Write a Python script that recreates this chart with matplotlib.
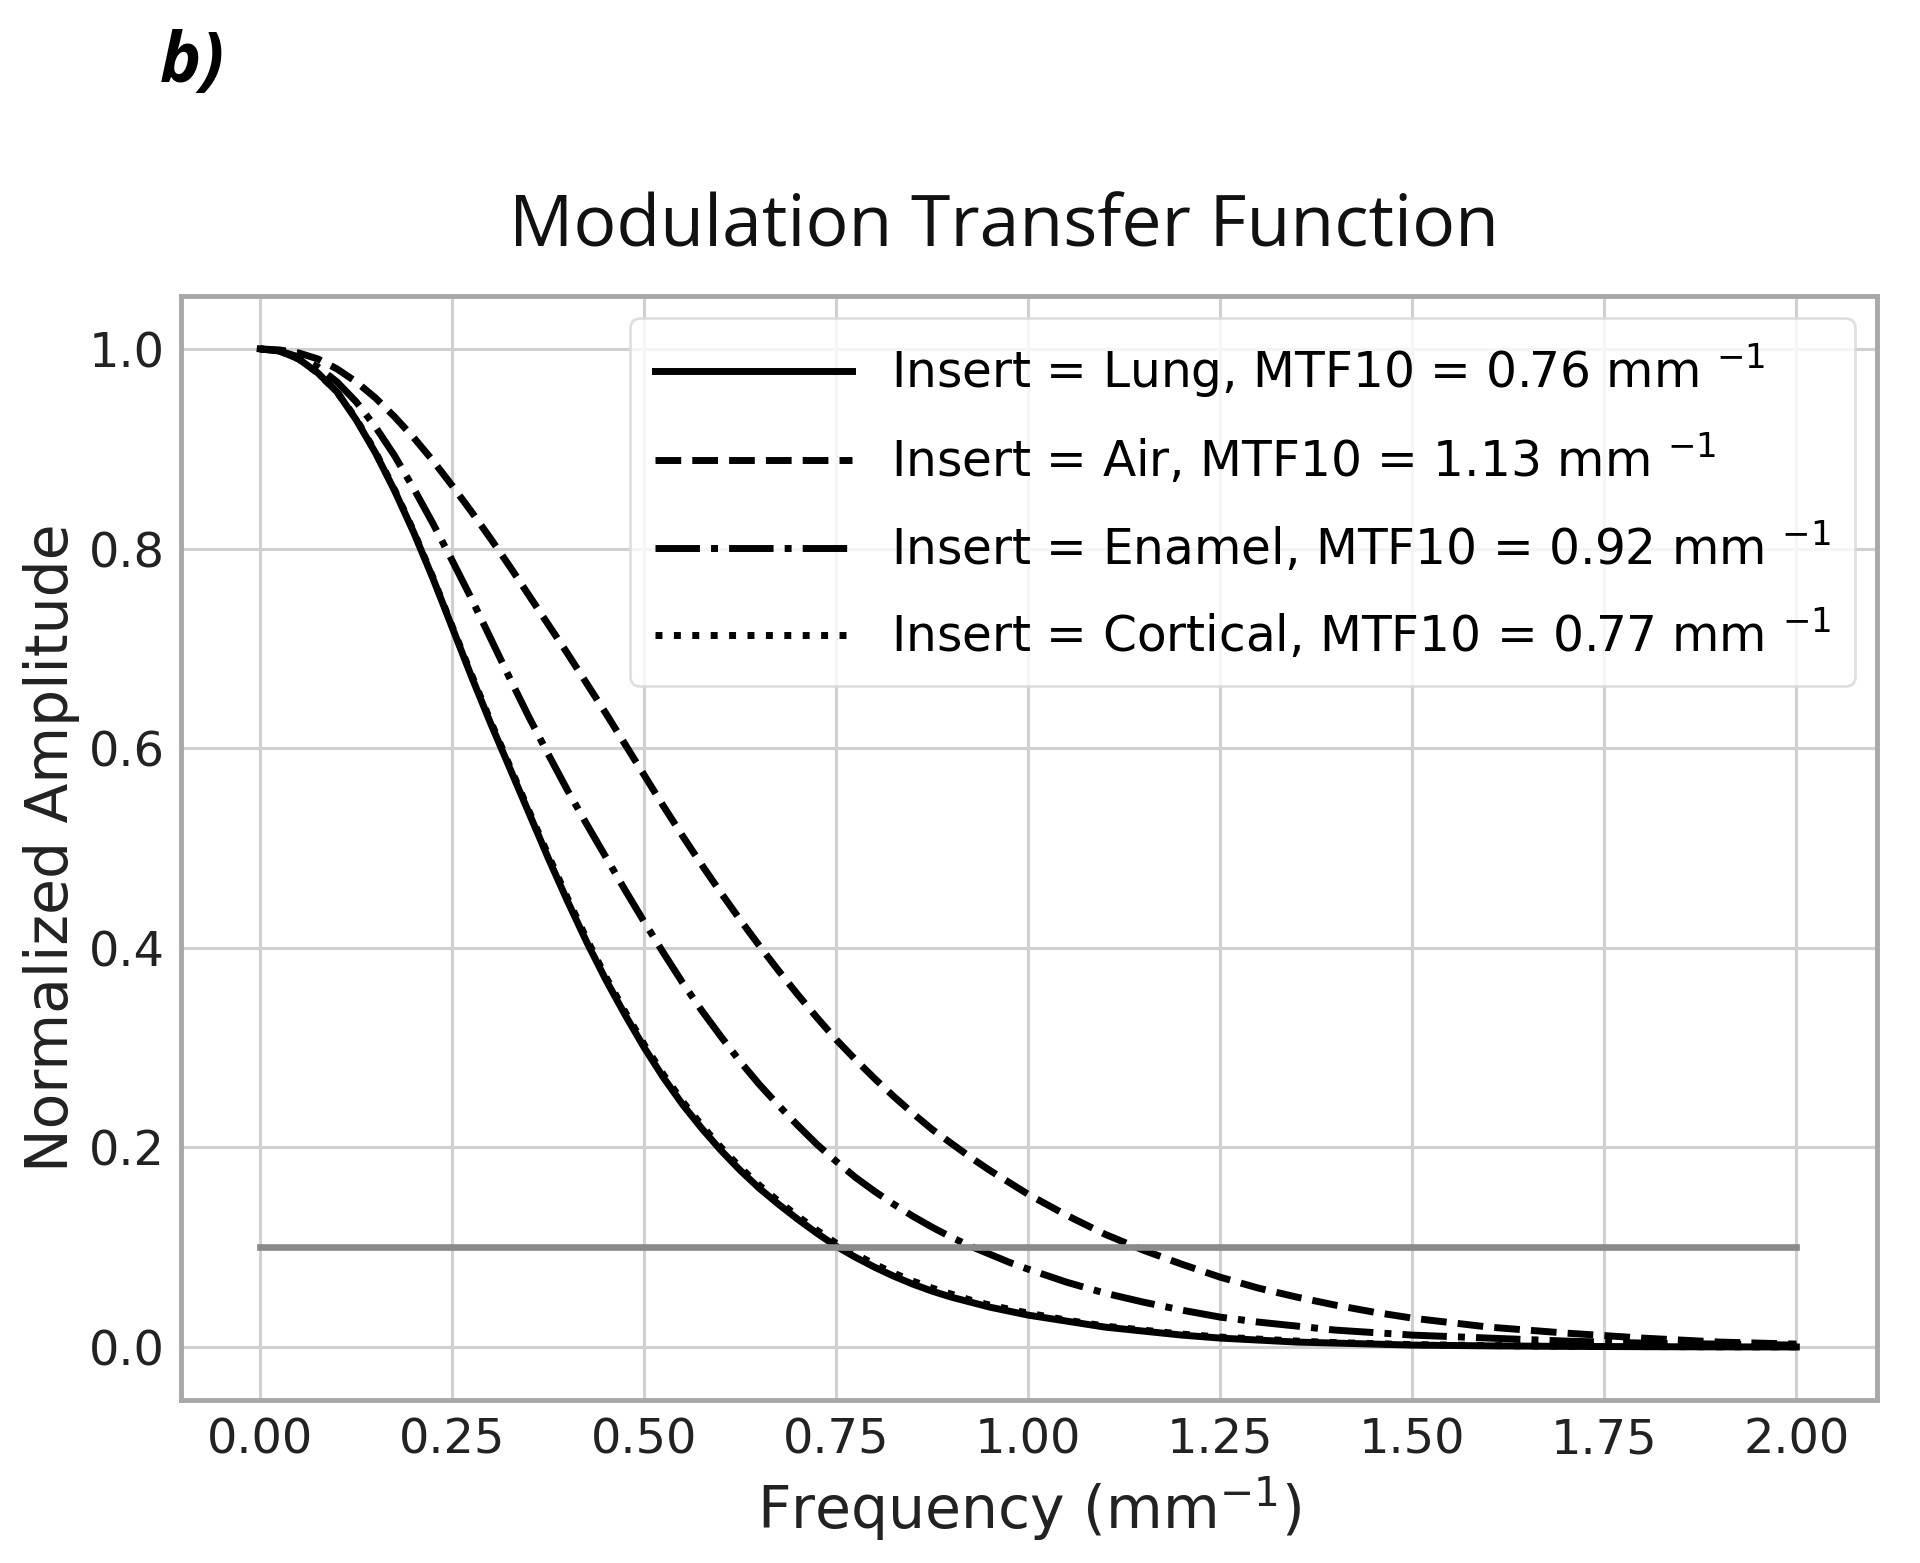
import matplotlib
matplotlib.use("Agg")
import matplotlib.pyplot as plt

# ---- data ----
freq = [0.0, 0.025, 0.05, 0.075, 0.1, 0.125, 0.15, 0.175, 0.2, 0.225, 0.25, 0.275, 0.3,
        0.325, 0.35, 0.375, 0.4, 0.425, 0.45, 0.475, 0.5, 0.525, 0.55, 0.575, 0.6, 0.625,
        0.65, 0.675, 0.7, 0.725, 0.75, 0.775, 0.8, 0.825, 0.85, 0.875, 0.9, 0.925, 0.95,
        0.975, 1.0,
        1.05, 1.1, 1.15, 1.2, 1.25, 1.3, 1.35, 1.4, 1.45, 1.5,
        1.6, 1.7, 1.8, 1.9, 2.0]

lung = [1.0, 0.998, 0.99, 0.976, 0.957, 0.929, 0.896, 0.858, 0.816, 0.77, 0.721, 0.672, 0.625,
        0.58, 0.535, 0.49, 0.447, 0.406, 0.368, 0.333, 0.30, 0.27, 0.243, 0.219, 0.197, 0.177,
        0.159, 0.143, 0.128, 0.114, 0.101, 0.09, 0.08, 0.071, 0.063, 0.056, 0.05, 0.045, 0.04,
        0.036, 0.032,
        0.026, 0.02, 0.016, 0.012, 0.009, 0.007, 0.005, 0.004, 0.003, 0.002,
        0.0012, 0.0007, 0.0004, 0.0002, 0.0001]

air = [1.0, 0.999, 0.996, 0.99, 0.98, 0.967, 0.951, 0.932, 0.911, 0.888, 0.863, 0.837, 0.81,
       0.782, 0.753, 0.724, 0.695, 0.665, 0.635, 0.604, 0.573, 0.542, 0.512, 0.483, 0.455, 0.428,
       0.402, 0.377, 0.353, 0.33, 0.308, 0.288, 0.269, 0.251, 0.234, 0.218, 0.204, 0.19, 0.177,
       0.165, 0.153,
       0.132, 0.113, 0.097, 0.083, 0.07, 0.059, 0.05, 0.042, 0.035, 0.029,
       0.02, 0.014, 0.009, 0.005, 0.003]

enamel = [1.0, 0.998, 0.992, 0.982, 0.967, 0.947, 0.922, 0.893, 0.86, 0.825, 0.788, 0.75, 0.71,
          0.67, 0.631, 0.594, 0.558, 0.524, 0.491, 0.458, 0.426, 0.395, 0.365, 0.337, 0.311, 0.286,
          0.263, 0.242, 0.222, 0.203, 0.186, 0.17, 0.156, 0.143, 0.131, 0.12, 0.11, 0.101, 0.093,
          0.085, 0.078,
          0.065, 0.054, 0.045, 0.037, 0.03, 0.025, 0.021, 0.017, 0.0145, 0.012,
          0.009, 0.006, 0.004, 0.003, 0.002]

cortical = [1.0, 0.998, 0.99, 0.976, 0.957, 0.93, 0.897, 0.859, 0.817, 0.771, 0.722, 0.674, 0.627,
            0.582, 0.537, 0.493, 0.45, 0.409, 0.371, 0.336, 0.303, 0.273, 0.246, 0.222, 0.2, 0.18,
            0.162, 0.146, 0.131, 0.117, 0.104, 0.093, 0.083, 0.074, 0.066, 0.059, 0.053, 0.047, 0.042,
            0.038, 0.034,
            0.027, 0.021, 0.017, 0.013, 0.01, 0.008, 0.006, 0.0045, 0.0035, 0.0025,
            0.0015, 0.0009, 0.0005, 0.0003, 0.0002]

labels = [r'Insert = Lung, MTF10 = 0.76 mm $^{-1}$',
          r'Insert = Air, MTF10 = 1.13 mm $^{-1}$',
          r'Insert = Enamel, MTF10 = 0.92 mm $^{-1}$',
          r'Insert = Cortical, MTF10 = 0.77 mm $^{-1}$']
styles = ['-', '--', '-.', ':']
threshold = 0.1
xticks = [0.0, 0.25, 0.5, 0.75, 1.0, 1.25, 1.5, 1.75, 2.0]
yticks = [0.0, 0.2, 0.4, 0.6, 0.8, 1.0]

plt.rcParams['font.family'] = ['DejaVu Sans']
plt.rcParams['mathtext.fontset'] = 'dejavusans'

fig = plt.figure(figsize=(19.2, 15.63), dpi=100)
ax = fig.add_axes([0.0943, 0.1043, 0.8833, 0.7063])

ax.set_facecolor('white')
ax.grid(True, color='#d0d0d0', linewidth=2.2)
ax.set_axisbelow(True)
for s in ax.spines.values():
    s.set_color('#a8a8a8')
    s.set_linewidth(3.5)

series = [lung, air, enamel, cortical]
for ys, ls, lab in zip(series, styles, labels):
    ax.plot(freq, ys, ls, color='black', linewidth=5, label=lab)

ax.plot([freq[0], freq[-1]], [threshold, threshold], '-', color='#8a8a8a', linewidth=4.8)

ax.set_xlim(-0.103, 2.105)
ax.set_ylim(-0.053, 1.053)
ax.set_xticks(xticks)
ax.set_xticklabels(['%.2f' % t for t in xticks])
ax.set_yticks(yticks)
ax.set_yticklabels(['%.1f' % t for t in yticks])
ax.tick_params(axis='both', length=0, labelsize=34.5, colors='#222222', pad=12)

ax.set_xlabel(r'Frequency (mm$^{-1}$)', fontsize=42, color='#222222', labelpad=8)
ax.set_ylabel('Normalized Amplitude', fontsize=42, color='#222222', labelpad=6)

leg = ax.legend(loc='upper right', fontsize=35, handlelength=4.05, labelspacing=0.68,
                frameon=True, fancybox=True, framealpha=0.8, borderpad=0.5,
                handletextpad=0.8, bbox_to_anchor=(1.0, 1.0), borderaxespad=0.45)
leg.get_frame().set_edgecolor('#d8d8d8')
leg.get_frame().set_linewidth(2)

fig.text(0.523, 1 - 228 / 1563, 'Modulation Transfer Function', ha='center', va='center',
         fontsize=51.5, family='Open Sans', color='#111111')
fig.text(0.083, 1 - 64 / 1563, 'b)', ha='left', va='center', fontsize=50,
         family='Open Sans', fontweight='bold', fontstyle='italic', color='black')

fig.savefig('out.png', dpi=100, facecolor='white')
